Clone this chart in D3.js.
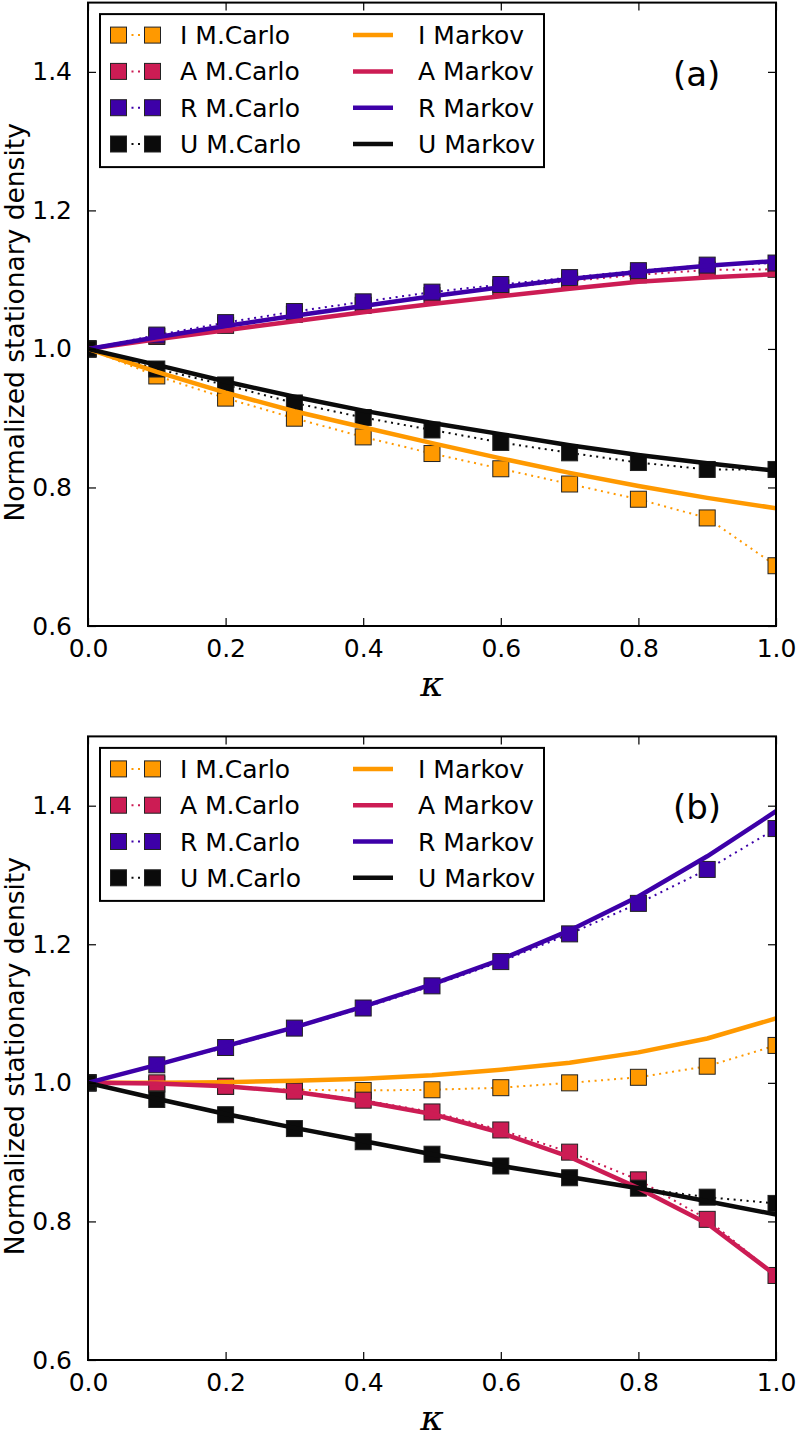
<!DOCTYPE html>
<html><head><meta charset="utf-8">
<script src="https://cdn.jsdelivr.net/npm/d3@7"></script>
<style>body{margin:0;background:#fff}svg{display:block}</style>
</head><body>
<script>
// ---------- data ----------
const kappa = [0,0.1,0.2,0.3,0.4,0.5,0.6,0.7,0.8,0.9,1.0];
const xTicks = [0,0.2,0.4,0.6,0.8,1.0];
const yTicks = [0.6,0.8,1.0,1.2,1.4];
const seriesNames = ["I","A","R","U"];
const seriesColors = ["#ff9900","#cc1c54","#3d00a8","#0b0b0b"];

// panel (a)
const a_I_MC = [1.0,0.961,0.929,0.900,0.873,0.849,0.827,0.805,0.783,0.756,0.687];
const a_A_MC = [1.0,1.018,1.034,1.050,1.063,1.077,1.088,1.098,1.107,1.114,1.115];
const a_R_MC = [1.0,1.020,1.038,1.054,1.068,1.082,1.093,1.103,1.113,1.121,1.124];
const a_U_MC = [1.0,0.971,0.948,0.922,0.901,0.883,0.865,0.850,0.836,0.826,0.826];
const a_I_MK = [1.0,0.967,0.937,0.910,0.887,0.864,0.842,0.821,0.802,0.785,0.770];
const a_A_MK = [1.0,1.014,1.027,1.040,1.053,1.065,1.076,1.087,1.097,1.103,1.108];
const a_R_MK = [1.0,1.017,1.033,1.048,1.062,1.076,1.089,1.101,1.111,1.120,1.127];
const a_U_MK = [1.0,0.977,0.953,0.931,0.911,0.893,0.877,0.861,0.847,0.835,0.824];

// panel (b)
const b_I_MC = [1.0,0.998,0.995,0.990,0.989,0.990,0.993,1.000,1.008,1.024,1.054];
const b_A_MC = [1.0,1.000,0.995,0.988,0.975,0.958,0.932,0.900,0.860,0.803,0.722];
const b_R_MC = [1.0,1.026,1.051,1.079,1.108,1.140,1.175,1.215,1.259,1.308,1.367];
const b_U_MC = [1.0,0.976,0.954,0.934,0.915,0.897,0.880,0.863,0.848,0.835,0.826];
const b_I_MK = [1.0,1.000,1.001,1.003,1.006,1.011,1.019,1.029,1.044,1.064,1.093];
const b_A_MK = [1.0,0.999,0.995,0.987,0.973,0.955,0.928,0.893,0.848,0.797,0.722];
const b_R_MK = [1.0,1.026,1.053,1.080,1.110,1.142,1.178,1.220,1.269,1.327,1.392];
const b_U_MK = [1.0,0.977,0.955,0.935,0.916,0.897,0.880,0.864,0.848,0.829,0.810];

const mcLabels = ["I M.Carlo","A M.Carlo","R M.Carlo","U M.Carlo"];
const mkLabels = ["I Markov","A Markov","R Markov","U Markov"];
const yLabel = "Normalized stationary density";
const xLabel = "κ";

// ---------- drawing ----------
const W = 796, H = 1439;
const svg = d3.select("body").append("svg").attr("width", W).attr("height", H);
const FONT = "'DejaVu Sans', sans-serif";
const left = 88, right = 776;

function panel(top, bottom, mc, mk, tag, id) {
  const x = d3.scaleLinear().domain([0,1]).range([left,right]);
  const y = d3.scaleLinear().domain([0.6,1.5]).range([bottom,top]);
  const g = svg.append("g");
  const clipId = "clip" + id;
  svg.append("clipPath").attr("id", clipId).append("rect")
    .attr("x", left).attr("y", top).attr("width", right-left).attr("height", bottom-top);
  const plot = g.append("g").attr("clip-path", `url(#${clipId})`);
  const line = d3.line().x((d,i)=>x(kappa[i])).y(d=>y(d));

  // Monte Carlo: dotted lines + square markers
  mc.forEach((vals, s) => {
    plot.append("path").attr("d", line(vals)).attr("fill","none")
      .attr("stroke", seriesColors[s]).attr("stroke-width", 2)
      .attr("stroke-dasharray", "2 4.5");
    plot.selectAll(null).data(vals).enter().append("rect")
      .attr("x", (d,i)=>x(kappa[i])-8).attr("y", d=>y(d)-8)
      .attr("width", 16).attr("height", 16)
      .attr("fill", seriesColors[s]).attr("stroke", "#222").attr("stroke-width", 1);
  });
  // Markov lines
  mk.forEach((vals, s) => {
    plot.append("path").attr("d", line(vals)).attr("fill","none")
      .attr("stroke", seriesColors[s]).attr("stroke-width", 4.5)
      .attr("stroke-linejoin","round");
  });

  // axes (inward ticks on all sides)
  const tl = 8;
  const axB = d3.axisBottom(x).tickValues(xTicks).tickSizeInner(-tl).tickSizeOuter(0).tickPadding(13).tickFormat(d3.format(".1f"));
  const axT = d3.axisTop(x).tickValues(xTicks).tickSizeInner(-tl).tickSizeOuter(0).tickFormat("");
  const axL = d3.axisLeft(y).tickValues(yTicks).tickSizeInner(-tl).tickSizeOuter(0).tickPadding(16).tickFormat(d3.format(".1f"));
  const axR = d3.axisRight(y).tickValues(yTicks).tickSizeInner(-tl).tickSizeOuter(0).tickFormat("");
  const gB = g.append("g").attr("transform",`translate(0,${bottom})`).call(axB);
  const gT = g.append("g").attr("transform",`translate(0,${top})`).call(axT);
  const gL = g.append("g").attr("transform",`translate(${left},0)`).call(axL);
  const gR = g.append("g").attr("transform",`translate(${right},0)`).call(axR);
  [gB,gT,gL,gR].forEach(a => {
    a.select(".domain").remove();
    a.selectAll(".tick line").attr("stroke","#000").attr("stroke-width",1.2);
    a.selectAll(".tick text").attr("font-family",FONT).attr("font-size",25).attr("fill","#000");
  });
  gB.selectAll(".tick text").attr("dy","0.71em");
  g.append("rect").attr("x",left).attr("y",top).attr("width",right-left).attr("height",bottom-top)
    .attr("fill","none").attr("stroke","#000").attr("stroke-width",2);

  // labels
  g.append("text").attr("transform",`translate(24,${(top+bottom)/2 + 8}) rotate(-90)`)
    .attr("text-anchor","middle").attr("font-family",FONT).attr("font-size",26.5).text(yLabel);
  g.append("text").attr("x",(left+right)/2).attr("y",bottom+70).attr("text-anchor","middle")
    .attr("font-family","'DejaVu Serif', serif").attr("font-style","italic").attr("font-size",36).text(xLabel);
  g.append("text").attr("x",673).attr("y",top+83).attr("font-family",FONT).attr("font-size",34).text(tag);

  // legend
  const lg = g.append("g");
  lg.append("rect").attr("x",100).attr("y",top+11.5).attr("width",444).attr("height",153)
    .attr("fill","#fff").attr("stroke","#000").attr("stroke-width",2);
  seriesNames.forEach((n,s) => {
    const cy = top + 32.5 + s*36.3;
    lg.append("line").attr("x1",118.5).attr("x2",152.5).attr("y1",cy).attr("y2",cy)
      .attr("stroke",seriesColors[s]).attr("stroke-width",2).attr("stroke-dasharray","2 4.5");
    [118.5,152.5].forEach(cx => lg.append("rect").attr("x",cx-8).attr("y",cy-8)
      .attr("width",16).attr("height",16).attr("fill",seriesColors[s]).attr("stroke","#222").attr("stroke-width",1));
    lg.append("text").attr("x",180).attr("y",cy+9).attr("font-family",FONT).attr("font-size",25).text(mcLabels[s]);
    lg.append("line").attr("x1",353).attr("x2",393).attr("y1",cy).attr("y2",cy)
      .attr("stroke",seriesColors[s]).attr("stroke-width",4.5);
    lg.append("text").attr("x",418).attr("y",cy+9).attr("font-family",FONT).attr("font-size",25).text(mkLabels[s]);
  });
}

panel(2.6, 626, [a_I_MC,a_A_MC,a_R_MC,a_U_MC], [a_I_MK,a_A_MK,a_R_MK,a_U_MK], "(a)", "a");
panel(736.4, 1360, [b_I_MC,b_A_MC,b_R_MC,b_U_MC], [b_I_MK,b_A_MK,b_R_MK,b_U_MK], "(b)", "b");
</script>
</body></html>
